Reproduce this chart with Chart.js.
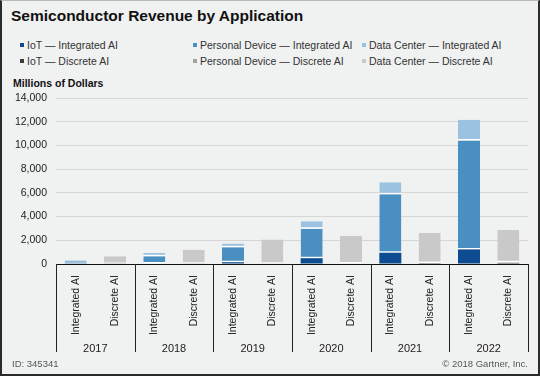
<!DOCTYPE html>
<html>
<head>
<meta charset="utf-8">
<script src="https://cdn.jsdelivr.net/npm/chart.js@4/dist/chart.umd.min.js"></script>
<style>
  html, body { margin: 0; padding: 0; }
  body { width: 540px; height: 376px; background: #f0f1f1; position: relative; overflow: hidden;
         font-family: Arial, "Liberation Sans", sans-serif; color: #222; }
  #frame { position: absolute; left: 0; top: 0; width: 540px; height: 376px; box-sizing: border-box;
           border: 2px solid #2b2b2b; border-top: 1px solid #b8b8b8; pointer-events: none; z-index: 5; }
  #title { position: absolute; left: 11px; top: 7px; font-size: 15.5px; font-weight: bold; color: #111; white-space: nowrap; }
  #unit { position: absolute; left: 13px; top: 77px; font-size: 10.5px; font-weight: bold; color: #111; white-space: nowrap; }
  #legend { position: absolute; left: 0; top: 0; }
  .li { position: absolute; font-size: 10.5px; line-height: 12px; color: #333; white-space: nowrap; }
  .li i { display: inline-block; width: 4px; height: 4px; margin-right: 3px; vertical-align: 2px; }
  .foot { position: absolute; top: 358px; font-size: 9.5px; color: #555; white-space: nowrap; }
  canvas { position: absolute; left: 0; top: 0; }
</style>
</head>
<body>
<div id="title">Semiconductor Revenue by Application</div>
<div id="legend"></div>
<div id="unit">Millions of Dollars</div>
<canvas id="c" width="540" height="376"></canvas>
<div class="foot" style="left:12px;">ID: 345341</div>
<div class="foot" style="right:12px;">© 2018 Gartner, Inc.</div>
<div id="frame"></div>
<script>
// ---- data (millions of dollars) ----
const years = ['2017', '2018', '2019', '2020', '2021', '2022'];
const barTypes = ['Integrated AI', 'Discrete AI'];
const iotIntegrated        = [20, 40, 150, 490, 950, 1230];
const personalIntegrated   = [210, 610, 1270, 2490, 4930, 9180];
const dataCenterIntegrated = [110, 280, 315, 620, 1020, 1750];
const iotDiscrete          = [0, 0, 0, 0, 20, 80];
const personalDiscrete     = [10, 20, 30, 40, 60, 60];
const dataCenterDiscrete   = [640, 1180, 2040, 2350, 2530, 2720];
const yMax = 14000;
const yStep = 2000;

// ---- build chart structures ----
const labels = [];
years.forEach(() => barTypes.forEach(t => labels.push(t)));
function place(arr, slot) {
  const out = [];
  arr.forEach(v => { for (let s = 0; s < barTypes.length; s++) out.push(s === slot ? v : null); });
  return out;
}
const seriesDefs = [
  { label: 'IoT — Integrated AI',             data: iotIntegrated,        slot: 0, color: '#0e4c92' },
  { label: 'Personal Device — Integrated AI', data: personalIntegrated,   slot: 0, color: '#4a8fc1' },
  { label: 'Data Center — Integrated AI',     data: dataCenterIntegrated, slot: 0, color: '#9cc2e2' },
  { label: 'IoT — Discrete AI',               data: iotDiscrete,          slot: 1, color: '#3c3c3c' },
  { label: 'Personal Device — Discrete AI',   data: personalDiscrete,     slot: 1, color: '#a3a3a3' },
  { label: 'Data Center — Discrete AI',       data: dataCenterDiscrete,   slot: 1, color: '#c9c9c9' }
];
// white separator under a segment only when something is stacked below it
function sepWidth(ctx) {
  const i = ctx.dataIndex, di = ctx.datasetIndex;
  const dsets = ctx.chart.data.datasets;
  let below = 0;
  for (let k = 0; k < di; k++) below += dsets[k].data[i] || 0;
  return below > 0 ? { top: 0, left: 0, right: 0, bottom: 1.5 } : 0;
}
const datasets = seriesDefs.map(d => ({
  label: d.label,
  data: place(d.data, d.slot),
  backgroundColor: d.color,
  borderColor: '#ffffff',
  borderWidth: sepWidth,
  borderSkipped: false,
  barPercentage: 0.56,
  categoryPercentage: 1.0
}));

const groupLines = {
  id: 'groupLines',
  afterDraw(chart) {
    const { ctx, chartArea } = chart;
    const x = chart.scales.x;
    const xs = [chartArea.left];
    for (let i = 1; i < years.length; i++) {
      const a = x.getPixelForTick(i * barTypes.length - 1);
      const b = x.getPixelForTick(i * barTypes.length);
      xs.push((a + b) / 2);
    }
    xs.push(chartArea.right);
    ctx.save();
    ctx.strokeStyle = '#222';
    ctx.lineWidth = 1;
    xs.forEach(px => {
      const p = Math.round(px) + 0.5;
      ctx.beginPath();
      ctx.moveTo(p, chartArea.bottom);
      ctx.lineTo(p, chartArea.bottom + 88);
      ctx.stroke();
    });
    ctx.restore();
  }
};

const chart = new Chart(document.getElementById('c'), {
  type: 'bar',
  data: { labels, datasets },
  options: {
    responsive: false,
    animation: false,
    devicePixelRatio: 1,
    layout: { padding: { left: 0, right: 12, top: 98, bottom: 24 } },
    plugins: { legend: { display: false }, tooltip: { enabled: false } },
    scales: {
      x: {
        stacked: true,
        grid: { display: false },
        border: { display: true, color: '#111', width: 1 },
        ticks: { minRotation: 90, maxRotation: 90, autoSkip: false, color: '#222',
                 font: { family: 'Arial, "Liberation Sans", sans-serif', size: 10.5 }, padding: 3 },
        afterFit(s) { s.height = 70; }
      },
      x2: {
        type: 'category',
        labels: years,
        position: 'bottom',
        offset: true,
        grid: { display: false },
        border: { display: false },
        ticks: { color: '#222', font: { family: 'Arial, "Liberation Sans", sans-serif', size: 11 }, padding: 0 },
        afterFit(s) { s.height = 18; }
      },
      y: {
        stacked: true,
        min: 0,
        max: yMax,
        grid: { color: '#d6d6d6', drawTicks: false },
        border: { display: false },
        ticks: { stepSize: yStep, color: '#222', padding: 9,
                 font: { family: 'Arial, "Liberation Sans", sans-serif', size: 10.5 },
                 callback: v => Number(v).toLocaleString('en-US') },
        afterFit(s) { s.width = 56; }
      }
    }
  },
  plugins: [groupLines]
});

// ---- HTML legend in a 3x2 grid, built from the datasets ----
const legendPos = [[20, 39], [193, 39], [362, 39], [20, 55], [193, 55], [362, 55]];
const leg = document.getElementById('legend');
chart.data.datasets.forEach((ds, i) => {
  const el = document.createElement('div');
  el.className = 'li';
  el.style.left = legendPos[i][0] + 'px';
  el.style.top = legendPos[i][1] + 'px';
  const sw = document.createElement('i');
  sw.style.background = ds.backgroundColor;
  el.appendChild(sw);
  el.appendChild(document.createTextNode(ds.label));
  leg.appendChild(el);
});
</script>
</body>
</html>
